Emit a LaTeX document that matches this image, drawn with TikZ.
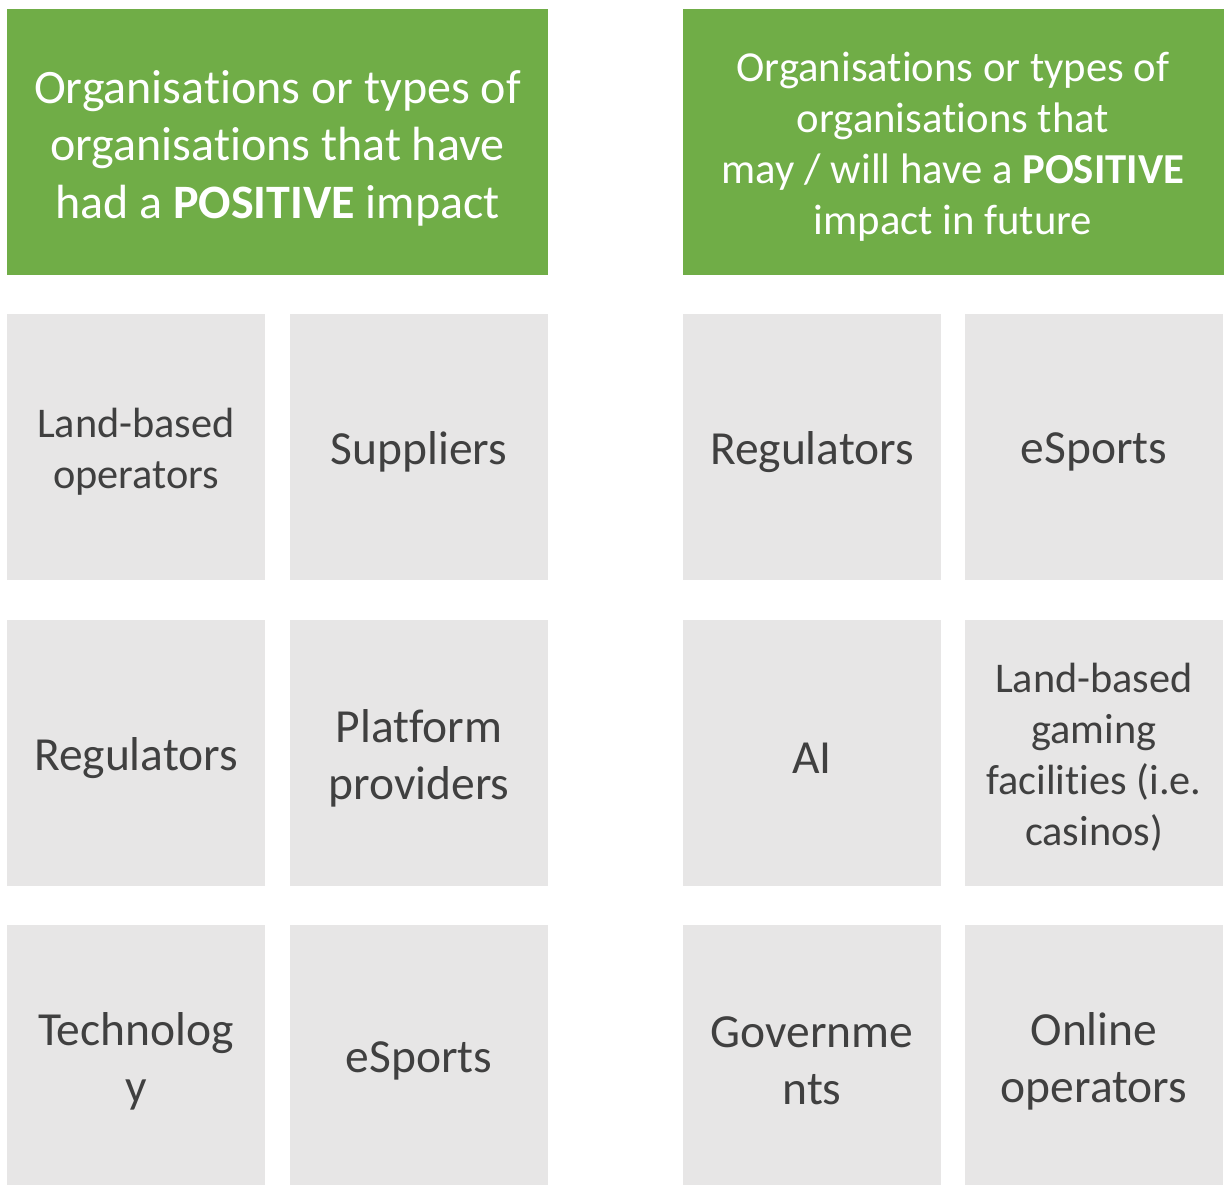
\documentclass[tikz,border=0pt]{standalone}
\usepackage{fontspec}
\setmainfont{Carlito}[RawFeature={-liga;-clig;-dlig;-calt}]
\definecolor{hdrgreen}{HTML}{70AD47}
\definecolor{cellgrey}{HTML}{E7E6E6}
\definecolor{ink}{HTML}{404040}
\begin{document}
\begin{tikzpicture}[x=1pt,y=-1pt,
  header/.style={fill=hdrgreen, draw=none,
    minimum width=541pt, minimum height=266pt, inner sep=0pt},
  headtext/.style={text=white, align=center, inner sep=0pt},
  cell/.style={fill=cellgrey, draw=none,
    minimum width=258pt, minimum height=266pt, inner sep=0pt},
  lowcell/.style={cell, minimum height=260pt},
  celltext/.style={text=ink, align=center, inner sep=0pt,
    font=\fontsize{47.5}{57}\selectfont},
  smalltext/.style={celltext, font=\fontsize{42.3}{51}\selectfont}]
\useasboundingbox (0,0) rectangle (1228,1185);

% column headers
\node[header] (hleft) at (277.5,142) {};
\node[headtext, font=\fontsize{48}{57.5}\selectfont] (hleftt) at ([yshift=-6pt]hleft.center)
  {Organisations or types of\\organisations that have\\had a \textbf{POSITIVE} impact};
\node[header] (hright) at (953,142) {};
\node[headtext, font=\fontsize{42.7}{51}\selectfont] (hrightt) at ([yshift=-5pt]hright.center)
  {Organisations or types of\\organisations that\\may / will have a \textbf{POSITIVE}\\impact in future};

% left grid
\node[cell] (l11) at (136,447) {};
\node[smalltext] (l11t) at ([yshift=-5pt]l11.center) {Land-based\\operators};
\node[cell] (l12) at (419,447) {};
\node[celltext] (l12t) at ([yshift=-5pt]l12.center) {Suppliers};
\node[cell] (l21) at (136,753) {};
\node[celltext] (l21t) at ([yshift=-5pt]l21.center) {Regulators};
\node[cell] (l22) at (419,753) {};
\node[celltext] (l22t) at ([yshift=-5pt]l22.center) {Platform\\providers};
\node[lowcell] (l31) at (136,1055) {};
\node[celltext] (l31t) at ([yshift=-6pt]l31.center) {Technolog\\y};
\node[lowcell] (l32) at (419,1055) {};
\node[celltext] (l32t) at ([yshift=-6pt]l32.center) {eSports};

% right grid
\node[cell] (r11) at (812,447) {};
\node[celltext] (r11t) at ([yshift=-5pt]r11.center) {Regulators};
\node[cell] (r12) at (1094,447) {};
\node[celltext] (r12t) at ([yshift=-5pt]r12.center) {eSports};
\node[cell] (r21) at (812,753) {};
\node[celltext] (r21t) at ([yshift=-5pt]r21.center) {AI};
\node[cell] (r22) at (1094,753) {};
\node[smalltext] (r22t) at ([yshift=-4pt]r22.center) {Land-based\\gaming\\facilities (i.e.\\casinos)};
\node[lowcell] (r31) at (812,1055) {};
\node[celltext] (r31t) at ([yshift=-6pt]r31.center) {Governme\\nts};
\node[lowcell] (r32) at (1094,1055) {};
\node[celltext] (r32t) at ([yshift=-6pt]r32.center) {Online\\operators};
\end{tikzpicture}
\end{document}
